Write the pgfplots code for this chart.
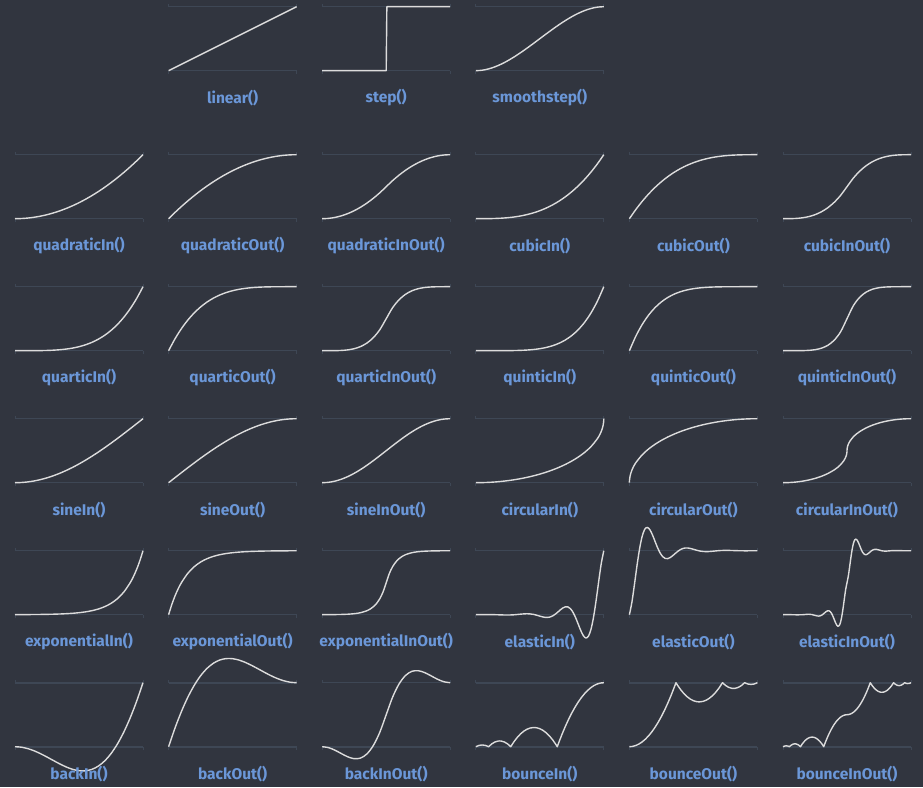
\documentclass[border=0pt]{standalone}
\usepackage{fontspec}
\setmainfont{Fira Sans}
\usepackage{pgfplots}
\pgfplotsset{compat=1.18}
\definecolor{bgc}{HTML}{31353F}
\definecolor{gridc}{HTML}{3E4755}
\definecolor{curvec}{HTML}{DCDCDC}
\definecolor{labc}{HTML}{6B97D8}
\pgfplotsset{
 ez/.style={
  anchor=south west, width=128pt, height=64pt, scale only axis,
  xmin=0, xmax=1, ymin=0, ymax=1, clip=false,
  axis line style={draw=none},
  xtick={0,1}, ytick={0,1}, xticklabels={,,}, yticklabels={,,},
  ytick style={draw=none},
  xtick style={draw=gridc, line width=0.8pt},
  tick align=outside, major tick length=3pt,
  ymajorgrids, grid style={draw=gridc, line width=1.6pt},
 },
 cv/.style={draw=curvec, line width=1.4pt, mark=none, line join=round},
}
\newcommand{\lab}[1]{\node[font=\bfseries\fontsize{15.5}{17}\selectfont, text=labc, anchor=center] at (axis description cs:0.5,-0.427) {#1};}
\begin{document}
\begin{tikzpicture}
\path[use as bounding box] (0pt,0pt) rectangle (923pt,787pt);
\fill[bgc] (0pt,0pt) rectangle (923pt,787pt);
% ---------- row 1
\begin{axis}[ez, at={(168.6pt,716.3pt)}]
\addplot[cv, sharp plot] coordinates {(0,0) (1,1)};
\lab{linear()}
\end{axis}
\begin{axis}[ez, at={(322.2pt,716.3pt)}]
\addplot[cv, sharp plot] coordinates {(0,0) (0.5,0) (0.505,1) (1,1)};
\lab{step()}
\end{axis}
\begin{axis}[ez, at={(475.8pt,716.3pt)}]
\addplot[cv, smooth] coordinates {(0,0)(.05,.0073)(.1,.028)(.15,.0608)(.2,.104)(.25,.1563)(.3,.216)(.35,.2818)(.4,.352)(.45,.4253)(.5,.5)(.55,.5748)(.6,.648)(.65,.7183)(.7,.784)(.75,.8438)(.8,.896)(.85,.9393)(.9,.972)(.95,.9928)(1,1)};
\lab{smoothstep()}
\end{axis}
% ---------- row 2
\begin{axis}[ez, at={(15pt,568.3pt)}]
\addplot[cv, smooth] coordinates {(0,0)(.05,.0025)(.1,.01)(.15,.0225)(.2,.04)(.25,.0625)(.3,.09)(.35,.1225)(.4,.16)(.45,.2025)(.5,.25)(.55,.3025)(.6,.36)(.65,.4225)(.7,.49)(.75,.5625)(.8,.64)(.85,.7225)(.9,.81)(.95,.9025)(1,1)};
\lab{quadraticIn()}
\end{axis}
\begin{axis}[ez, at={(168.6pt,568.3pt)}]
\addplot[cv, smooth] coordinates {(0,0)(.05,.0975)(.1,.19)(.15,.2775)(.2,.36)(.25,.4375)(.3,.51)(.35,.5775)(.4,.64)(.45,.6975)(.5,.75)(.55,.7975)(.6,.84)(.65,.8775)(.7,.91)(.75,.9375)(.8,.96)(.85,.9775)(.9,.99)(.95,.9975)(1,1)};
\lab{quadraticOut()}
\end{axis}
\begin{axis}[ez, at={(322.2pt,568.3pt)}]
\addplot[cv, smooth] coordinates {(0,0)(.05,.005)(.1,.02)(.15,.045)(.2,.08)(.25,.125)(.3,.18)(.35,.245)(.4,.32)(.45,.405)(.5,.5)(.55,.595)(.6,.68)(.65,.755)(.7,.82)(.75,.875)(.8,.92)(.85,.955)(.9,.98)(.95,.995)(1,1)};
\lab{quadraticInOut()}
\end{axis}
\begin{axis}[ez, at={(475.8pt,568.3pt)}]
\addplot[cv, smooth] coordinates {(0,0)(.05,.0001)(.1,.001)(.15,.0034)(.2,.008)(.25,.0156)(.3,.027)(.35,.0429)(.4,.064)(.45,.0911)(.5,.125)(.55,.1664)(.6,.216)(.65,.2746)(.7,.343)(.75,.4219)(.8,.512)(.85,.6141)(.9,.729)(.95,.8574)(1,1)};
\lab{cubicIn()}
\end{axis}
\begin{axis}[ez, at={(629.4pt,568.3pt)}]
\addplot[cv, smooth] coordinates {(0,0)(.05,.1426)(.1,.271)(.15,.3859)(.2,.488)(.25,.5781)(.3,.657)(.35,.7254)(.4,.784)(.45,.8336)(.5,.875)(.55,.9089)(.6,.936)(.65,.9571)(.7,.973)(.75,.9844)(.8,.992)(.85,.9966)(.9,.999)(.95,.9999)(1,1)};
\lab{cubicOut()}
\end{axis}
\begin{axis}[ez, at={(783pt,568.3pt)}]
\addplot[cv, smooth] coordinates {(0,0)(.05,.0005)(.1,.004)(.15,.0135)(.2,.032)(.25,.0625)(.3,.108)(.35,.1715)(.4,.256)(.45,.3645)(.5,.5)(.55,.6355)(.6,.744)(.65,.8285)(.7,.892)(.75,.9375)(.8,.968)(.85,.9865)(.9,.996)(.95,.9995)(1,1)};
\lab{cubicInOut()}
\end{axis}
% ---------- row 3
\begin{axis}[ez, at={(15pt,436.3pt)}]
\addplot[cv, smooth] coordinates {(0,0)(.05,0)(.1,.0001)(.15,.0005)(.2,.0016)(.25,.0039)(.3,.0081)(.35,.015)(.4,.0256)(.45,.041)(.5,.0625)(.55,.0915)(.6,.1296)(.65,.1785)(.7,.2401)(.75,.3164)(.8,.4096)(.85,.522)(.9,.6561)(.95,.8145)(1,1)};
\lab{quarticIn()}
\end{axis}
\begin{axis}[ez, at={(168.6pt,436.3pt)}]
\addplot[cv, smooth] coordinates {(0,0)(.05,.1855)(.1,.3439)(.15,.478)(.2,.5904)(.25,.6836)(.3,.7599)(.35,.8215)(.4,.8704)(.45,.9085)(.5,.9375)(.55,.959)(.6,.9744)(.65,.985)(.7,.9919)(.75,.9961)(.8,.9984)(.85,.9995)(.9,.9999)(.95,1)(1,1)};
\lab{quarticOut()}
\end{axis}
\begin{axis}[ez, at={(322.2pt,436.3pt)}]
\addplot[cv, smooth] coordinates {(0,0)(.05,.0001)(.1,.0008)(.15,.0041)(.2,.0128)(.25,.0313)(.3,.0648)(.35,.1201)(.4,.2048)(.45,.3281)(.5,.5)(.55,.6719)(.6,.7952)(.65,.88)(.7,.9352)(.75,.9688)(.8,.9872)(.85,.996)(.9,.9992)(.95,.9999)(1,1)};
\lab{quarticInOut()}
\end{axis}
\begin{axis}[ez, at={(475.8pt,436.3pt)}]
\addplot[cv, smooth] coordinates {(0,0)(.05,0)(.1,0)(.15,.0001)(.2,.0003)(.25,.001)(.3,.0024)(.35,.0053)(.4,.0102)(.45,.0185)(.5,.0313)(.55,.0503)(.6,.0778)(.65,.116)(.7,.1681)(.75,.2373)(.8,.3277)(.85,.4437)(.9,.5905)(.95,.7738)(1,1)};
\lab{quinticIn()}
\end{axis}
\begin{axis}[ez, at={(629.4pt,436.3pt)}]
\addplot[cv, smooth] coordinates {(0,0)(.05,.2262)(.1,.4095)(.15,.5563)(.2,.6723)(.25,.7627)(.3,.8319)(.35,.884)(.4,.9222)(.45,.9497)(.5,.9688)(.55,.9815)(.6,.9898)(.65,.9947)(.7,.9976)(.75,.999)(.8,.9997)(.85,.9999)(.9,1)(.95,1)(1,1)};
\lab{quinticOut()}
\end{axis}
\begin{axis}[ez, at={(783pt,436.3pt)}]
\addplot[cv, smooth] coordinates {(0,0)(.05,0)(.1,.0002)(.15,.0012)(.2,.0051)(.25,.0156)(.3,.0389)(.35,.084)(.4,.1638)(.45,.2952)(.5,.5)(.55,.7048)(.6,.8362)(.65,.916)(.7,.9611)(.75,.9844)(.8,.9949)(.85,.9988)(.9,.9998)(.95,1)(1,1)};
\lab{quinticInOut()}
\end{axis}
% ---------- row 4
\begin{axis}[ez, at={(15pt,304.3pt)}]
\addplot[cv, smooth] coordinates {(0,0)(.05,.0031)(.1,.0123)(.15,.0276)(.2,.0489)(.25,.0761)(.3,.109)(.35,.1474)(.4,.191)(.45,.2396)(.5,.2929)(.55,.3506)(.6,.4122)(.65,.4775)(.7,.546)(.75,.6173)(.8,.691)(.85,.7666)(.9,.8436)(.95,.9215)(1,1)};
\lab{sineIn()}
\end{axis}
\begin{axis}[ez, at={(168.6pt,304.3pt)}]
\addplot[cv, smooth] coordinates {(0,0)(.05,.0785)(.1,.1564)(.15,.2334)(.2,.309)(.25,.3827)(.3,.454)(.35,.5225)(.4,.5878)(.45,.6494)(.5,.7071)(.55,.7604)(.6,.809)(.65,.8526)(.7,.891)(.75,.9239)(.8,.9511)(.85,.9724)(.9,.9877)(.95,.9969)(1,1)};
\lab{sineOut()}
\end{axis}
\begin{axis}[ez, at={(322.2pt,304.3pt)}]
\addplot[cv, smooth] coordinates {(0,0)(.05,.0062)(.1,.0245)(.15,.0545)(.2,.0955)(.25,.1464)(.3,.2061)(.35,.273)(.4,.3455)(.45,.4218)(.5,.5)(.55,.5782)(.6,.6545)(.65,.727)(.7,.7939)(.75,.8536)(.8,.9045)(.85,.9455)(.9,.9755)(.95,.9938)(1,1)};
\lab{sineInOut()}
\end{axis}
\begin{axis}[ez, at={(475.8pt,304.3pt)}]
\addplot[cv, smooth] coordinates {(0,0)(.05,.0013)(.1,.005)(.15,.0113)(.2,.0202)(.25,.0318)(.3,.0461)(.35,.0633)(.4,.0835)(.45,.107)(.5,.134)(.55,.1648)(.6,.2)(.65,.2401)(.7,.2859)(.75,.3386)(.8,.4)(.85,.4732)(.9,.5641)(.95,.6878)(.97,.7569)(.98,.801)(.99,.8589)(.995,.9001)(.999,.9553)(1,1)};
\lab{circularIn()}
\end{axis}
\begin{axis}[ez, at={(629.4pt,304.3pt)}]
\addplot[cv, smooth] coordinates {(0,0)(.001,.0447)(.005,.0999)(.01,.1411)(.02,.199)(.03,.2431)(.05,.3122)(.1,.4359)(.15,.5268)(.2,.6)(.25,.6614)(.3,.7141)(.35,.7599)(.4,.8)(.45,.8352)(.5,.866)(.55,.893)(.6,.9165)(.65,.9367)(.7,.9539)(.75,.9682)(.8,.9798)(.85,.9887)(.9,.995)(.95,.9987)(1,1)};
\lab{circularOut()}
\end{axis}
\begin{axis}[ez, at={(783pt,304.3pt)}]
\addplot[cv, smooth] coordinates {(0,0)(.05,.0025)(.1,.0101)(.15,.023)(.2,.0417)(.25,.067)(.3,.1)(.35,.1429)(.4,.2)(.425,.2366)(.45,.2821)(.475,.3439)(.485,.3785)(.49,.4005)(.495,.4295)(.4975,.4501)(.4995,.4776)(.5,.5)(.5005,.5224)(.5025,.5499)(.505,.5705)(.51,.5995)(.515,.6215)(.525,.6561)(.55,.7179)(.575,.7634)(.6,.8)(.65,.8571)(.7,.9)(.75,.933)(.8,.9583)(.85,.977)(.9,.9899)(.95,.9975)(1,1)};
\lab{circularInOut()}
\end{axis}
% ---------- row 5
\begin{axis}[ez, at={(15pt,172.3pt)}]
\addplot[cv, smooth] coordinates {(0,0)(.05,.0014)(.1,.002)(.15,.0028)(.2,.0039)(.25,.0055)(.3,.0078)(.35,.011)(.4,.0156)(.45,.0221)(.5,.0313)(.55,.0442)(.6,.0625)(.65,.0884)(.7,.125)(.75,.1768)(.8,.25)(.85,.3536)(.9,.5)(.925,.5946)(.95,.7071)(.975,.8409)(1,1)};
\lab{exponentialIn()}
\end{axis}
\begin{axis}[ez, at={(168.6pt,172.3pt)}]
\addplot[cv, smooth] coordinates {(0,0)(.025,.1591)(.05,.2929)(.075,.4054)(.1,.5)(.15,.6464)(.2,.75)(.25,.8232)(.3,.875)(.35,.9116)(.4,.9375)(.45,.9558)(.5,.9688)(.55,.9779)(.6,.9844)(.65,.989)(.7,.9922)(.75,.9945)(.8,.9961)(.85,.9972)(.9,.998)(.95,.9986)(1,1)};
\lab{exponentialOut()}
\end{axis}
\begin{axis}[ez, at={(322.2pt,172.3pt)}]
\addplot[cv, smooth] coordinates {(0,0)(.05,.001)(.1,.002)(.15,.0039)(.2,.0078)(.25,.0156)(.3,.0313)(.35,.0625)(.375,.0884)(.4,.125)(.425,.1768)(.45,.25)(.475,.3536)(.5,.5)(.525,.6464)(.55,.75)(.575,.8232)(.6,.875)(.625,.9116)(.65,.9375)(.7,.9688)(.75,.9844)(.8,.9922)(.85,.9961)(.9,.998)(.95,.999)(1,1)};
\lab{exponentialInOut()}
\end{axis}
\begin{axis}[ez, at={(475.8pt,172.3pt)}]
\addplot[cv, smooth] coordinates {(0,0)(.05,.0012)(.1,.0017)(.15,.0002)(.2,-.0032)(.25,-.0051)(.3,-.0012)(.35,.0084)(.4,.0149)(.45,.0052)(.5,-.0221)(.52,-.0334)(.54,-.0412)(.56,-.0429)(.58,-.036)(.6,-.0193)(.62,.0068)(.64,.0397)(.66,.0749)(.68,.1054)(.7,.1235)(.72,.1212)(.74,.0927)(.76,.0355)(.78,-.0475)(.8,-.1469)(.82,-.2472)(.84,-.3273)(.86,-.3639)(.88,-.3354)(.9,-.227)(.92,-.036)(.94,.2235)(.96,.5188)(.98,.799)(1,1)};
\lab{elasticIn()}
\end{axis}
\begin{axis}[ez, at={(629.4pt,172.3pt)}]
\addplot[cv, smooth] coordinates {(0,0)(.02,.2011)(.04,.4812)(.06,.7765)(.08,1.036)(.1,1.227)(.12,1.3354)(.14,1.3639)(.16,1.3273)(.18,1.2472)(.2,1.1469)(.22,1.0475)(.24,.9645)(.26,.9073)(.28,.8788)(.3,.8765)(.32,.8946)(.34,.9251)(.36,.9603)(.38,.9932)(.4,1.0193)(.42,1.036)(.44,1.0429)(.46,1.0412)(.48,1.0334)(.5,1.0221)(.55,.9948)(.6,.9851)(.65,.9916)(.7,1.0012)(.75,1.0051)(.8,1.0032)(.85,.9998)(.9,.9983)(.95,.9988)(1,1)};
\lab{elasticOut()}
\end{axis}
\begin{axis}[ez, at={(783pt,172.3pt)}]
\addplot[cv, smooth] coordinates {(0,0)(.05,.0009)(.1,-.0016)(.15,-.0006)(.2,.0074)(.225,.0026)(.25,-.011)(.27,-.0206)(.28,-.0214)(.29,-.018)(.3,-.0097)(.31,.0034)(.32,.0199)(.33,.0374)(.34,.0527)(.35,.0617)(.36,.0606)(.37,.0464)(.38,.0178)(.39,-.0237)(.4,-.0735)(.41,-.1236)(.42,-.1636)(.43,-.1819)(.44,-.1677)(.45,-.1135)(.46,-.018)(.47,.1118)(.48,.2594)(.49,.3995)(.5,.5)(.51,.6005)(.52,.7406)(.53,.8882)(.54,1.018)(.55,1.1135)(.56,1.1677)(.57,1.1819)(.58,1.1636)(.59,1.1236)(.6,1.0735)(.61,1.0237)(.62,.9822)(.63,.9536)(.64,.9394)(.65,.9383)(.66,.9473)(.67,.9626)(.68,.9801)(.69,.9966)(.7,1.0097)(.71,1.018)(.72,1.0214)(.73,1.0206)(.75,1.011)(.775,.9974)(.8,.9926)(.85,1.0006)(.9,1.0016)(.95,.9991)(1,1)};
\lab{elasticInOut()}
\end{axis}
% ---------- row 6
\begin{axis}[ez, at={(15pt,40.3pt)}]
\addplot[cv, smooth] coordinates {(0,0)(.05,-.0077)(.1,-.0299)(.15,-.0647)(.2,-.1096)(.25,-.1612)(.3,-.2157)(.35,-.269)(.4,-.3164)(.45,-.3533)(.5,-.375)(.55,-.3769)(.6,-.3546)(.65,-.3045)(.7,-.2233)(.75,-.1085)(.8,.0418)(.85,.2282)(.9,.4509)(.95,.7088)(1,1)};
\lab{backIn()}
\end{axis}
\begin{axis}[ez, at={(168.6pt,40.3pt)}]
\addplot[cv, smooth] coordinates {(0,0)(.05,.2912)(.1,.5491)(.15,.7718)(.2,.9582)(.25,1.1085)(.3,1.2233)(.35,1.3045)(.4,1.3546)(.45,1.3769)(.5,1.375)(.55,1.3533)(.6,1.3164)(.65,1.269)(.7,1.2157)(.75,1.1612)(.8,1.1096)(.85,1.0647)(.9,1.0299)(.95,1.0077)(1,1)};
\lab{backOut()}
\end{axis}
\begin{axis}[ez, at={(322.2pt,40.3pt)}]
\addplot[cv, smooth] coordinates {(0,0)(.05,-.015)(.1,-.0548)(.15,-.1079)(.2,-.1582)(.25,-.1875)(.3,-.1773)(.35,-.1117)(.4,.0209)(.45,.2254)(.5,.5)(.55,.7746)(.6,.9791)(.65,1.1117)(.7,1.1773)(.75,1.1875)(.8,1.1582)(.85,1.1079)(.9,1.0548)(.95,1.015)(1,1)};
\lab{backInOut()}
\end{axis}
\begin{axis}[ez, at={(475.8pt,40.3pt)}]
\addplot[cv, sharp plot] coordinates {(0,0)(.025,.0203)(.05,.027)(.075,.0203)(.1,0)(.125,.0446)(.15,.0741)(.175,.0884)(.1864,.09)(.2,.0878)(.225,.072)(.25,.0411)(.2727,0)(.3,.0832)(.325,.1477)(.35,.2008)(.375,.2426)(.4,.273)(.425,.2921)(.4545,.3)(.475,.2962)(.5,.2813)(.525,.255)(.55,.2173)(.575,.1683)(.6,.108)(.625,.0363)(.6364,0)(.65,.0736)(.675,.2012)(.7,.3194)(.725,.4281)(.75,.5273)(.775,.6171)(.8,.6975)(.825,.7684)(.85,.8298)(.875,.8818)(.9,.9244)(.925,.9575)(.95,.9811)(.975,.9953)(1,1)};
\lab{bounceIn()}
\end{axis}
\begin{axis}[ez, at={(629.4pt,40.3pt)}]
\addplot[cv, sharp plot] coordinates {(0,0)(.025,.0047)(.05,.0189)(.075,.0425)(.1,.0756)(.125,.1182)(.15,.1702)(.175,.2316)(.2,.3025)(.225,.3829)(.25,.4727)(.275,.5719)(.3,.6806)(.325,.7988)(.35,.9264)(.3636,1)(.375,.9637)(.4,.892)(.425,.8317)(.45,.7827)(.475,.745)(.5,.7188)(.525,.7038)(.5455,.7)(.575,.7079)(.6,.727)(.625,.7574)(.65,.7992)(.675,.8523)(.7,.9168)(.7273,1)(.75,.9589)(.775,.928)(.8,.9122)(.8136,.91)(.825,.9116)(.85,.926)(.875,.9554)(.9,1)(.925,.9798)(.95,.973)(.975,.9798)(1,1)};
\lab{bounceOut()}
\end{axis}
\begin{axis}[ez, at={(783pt,40.3pt)}]
\addplot[cv, sharp plot] coordinates {(0,0)(.0125,.0101)(.025,.0135)(.0375,.0101)(.05,0)(.0625,.0223)(.075,.037)(.0875,.0442)(.0932,.045)(.1,.0439)(.1125,.036)(.125,.0206)(.1364,0)(.15,.0416)(.1625,.0739)(.175,.1004)(.1875,.1213)(.2,.1365)(.2125,.146)(.2273,.15)(.2375,.1481)(.25,.1406)(.2625,.1275)(.275,.1087)(.2875,.0842)(.3,.054)(.3125,.0182)(.3182,0)(.325,.0368)(.3375,.1006)(.35,.1597)(.3625,.214)(.375,.2637)(.3875,.3086)(.4,.3488)(.4125,.3842)(.425,.4149)(.4375,.4409)(.45,.4622)(.4625,.4787)(.475,.4905)(.4875,.4976)(.5,.5)(.5125,.5024)(.525,.5095)(.5375,.5213)(.55,.5378)(.5625,.5591)(.575,.5851)(.5875,.6158)(.6,.6513)(.6125,.6914)(.625,.7363)(.6375,.786)(.65,.8403)(.6625,.8994)(.675,.9632)(.6818,1)(.6875,.9818)(.7,.946)(.7125,.9158)(.725,.8913)(.7375,.8725)(.75,.8594)(.7625,.8519)(.7727,.85)(.7875,.854)(.8,.8635)(.8125,.8787)(.825,.8996)(.8375,.9261)(.85,.9584)(.8636,1)(.875,.9794)(.8875,.964)(.9,.9561)(.9068,.955)(.9125,.9558)(.925,.963)(.9375,.9777)(.95,1)(.9625,.9899)(.975,.9865)(.9875,.9899)(1,1)};
\lab{bounceInOut()}
\end{axis}
\end{tikzpicture}
\end{document}
